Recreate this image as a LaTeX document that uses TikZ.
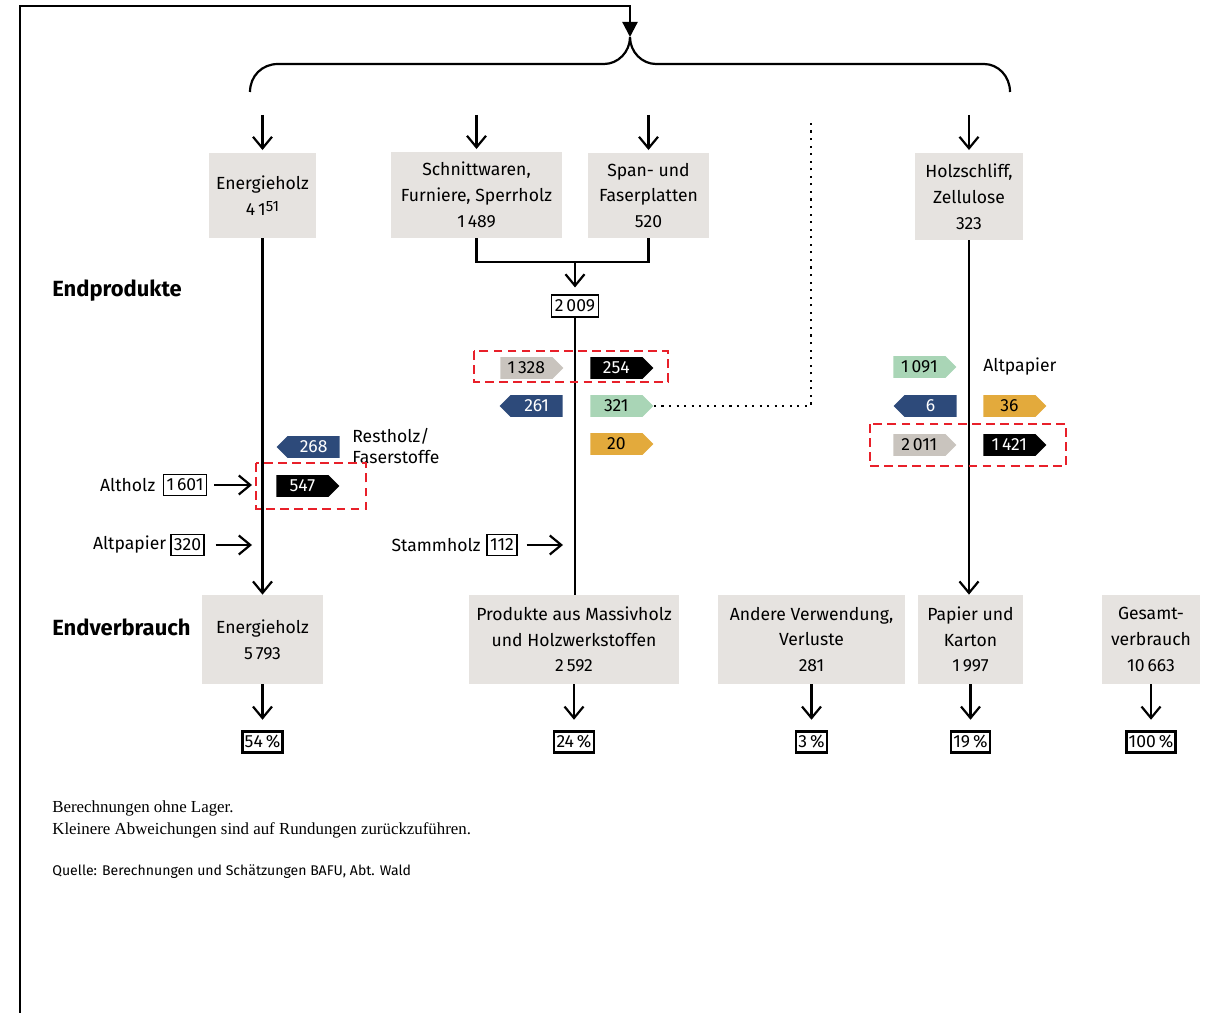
\documentclass[tikz,border=0pt]{standalone}
\usepackage{fontspec}
\setmainfont{Fira Sans}
\newfontfamily\notefont{Liberation Serif}
\usepackage{tikz}
\usetikzlibrary{arrows.meta}
\usetikzlibrary{shapes.symbols}
\usetikzlibrary{positioning}

\definecolor{boxgray}{HTML}{E6E3E0}
\definecolor{taggray}{HTML}{C9C4BE}
\definecolor{tagblue}{HTML}{2D4A7A}
\definecolor{taggreen}{HTML}{A9D5B6}
\definecolor{tagorange}{HTML}{E3AA3C}
\definecolor{hlred}{HTML}{E8202A}

\tikzset{
  flow/.style={line width=1.25pt},
  arr/.style={flow, -{Straight Barb[length=2.3mm, width=3.8mm]}},
  prodbox/.style={fill=boxgray, align=center, inner sep=0pt, font=\fontsize{10}{14.7}\selectfont},
  valbox/.style={draw, line width=0.9pt, inner xsep=1.8pt, inner ysep=2.6pt, font=\fontsize{10}{12}\selectfont},
  pctbox/.style={draw, line width=1.5pt, inner xsep=1.4pt, inner ysep=2.2pt, font=\fontsize{10}{12}\selectfont},
  flowtag/.style={signal, signal from=nowhere, minimum height=0.44cm, minimum width=1.26cm, inner sep=1pt, font=\fontsize{10}{12}\selectfont},
  tagR/.style={flowtag, signal to=east, anchor=west},
  tagL/.style={flowtag, signal to=west, anchor=east},
  hilite/.style={draw=hlred, line width=1.4pt, dash pattern=on 5pt off 3pt},
  dotline/.style={line width=1.2pt, dash pattern=on 1.2pt off 3.1pt},
  heading/.style={anchor=west, inner sep=0pt, font=\fontsize{12.5}{14}\selectfont\bfseries},
}

\begin{document}
\begin{tikzpicture}[x=0.02cm, y=-0.02cm]
\useasboundingbox (0,0) rectangle (1217,1013);

% frame and brace
\coordinate (frameFoot) at (20,1013);
\coordinate (braceTip) at (630,37);
\draw[line width=1.3pt, -{Triangle[length=3mm, width=3mm]}] (frameFoot) -- (20,6) -| (braceTip);
\draw[flow] (250,92) .. controls (250,76) and (262,64) .. (278,64) -- (604,64)
  .. controls (618,64) and (630,52) .. (braceTip)
  .. controls (630,52) and (642,64) .. (656,64) -- (984,64)
  .. controls (998,64) and (1010,76) .. (1010,92);

% Endprodukte
\node[heading] (hProd) at (52,291) {Endprodukte};
\node[prodbox, minimum width=2.14cm, minimum height=1.7cm] (eTop) at (262.5,195.5) {Energieholz\\4\,1\raisebox{0.45ex}{\fontsize{8.5}{9}\selectfont 51}};
\node[prodbox, minimum width=3.42cm, minimum height=1.72cm] (sTop) at (476.5,195) {Schnittwaren,\\Furniere, Sperrholz\\1\,489};
\node[prodbox, minimum width=2.42cm, minimum height=1.7cm] (pTop) at (648.5,195.5) {Span- und\\Faserplatten\\520};
\node[prodbox, minimum width=2.16cm, minimum height=1.74cm] (hTop) at (969,196.5) {Holzschliff,\\Zellulose\\323};

\coordinate (eIn) at (262.5,115);
\coordinate (sIn) at (476.5,115);
\coordinate (pIn) at (648.5,115);
\coordinate (hIn) at (969,115);
\draw[arr, shorten >=1.5pt] (eIn) -- (eTop.north);
\draw[arr, shorten >=1.5pt] (sIn) -- (sTop.north);
\draw[arr, shorten >=1.5pt] (pIn) -- (pTop.north);
\draw[arr, shorten >=1.5pt] (hIn) -- (hTop.north);

\coordinate (sJoin) at (575,262);
\draw[flow] (sTop.south) |- (pTop.south |- sJoin) -- (pTop.south);
\node[valbox] (sum) at (575,306) {2\,009};
\draw[arr, shorten >=4pt] (sJoin) -- (sum.north);

% Endverbrauch
\node[heading] (hEnd) at (52,627) {Endverbrauch};
\node[prodbox, minimum width=2.42cm, minimum height=1.78cm] (eEnd) at (262.5,639.5) {Energieholz\\5\,793};
\node[prodbox, minimum width=4.2cm, minimum height=1.78cm] (mEnd) at (574,639.5) {Produkte aus Massivholz\\und Holzwerkstoffen\\2\,592};
\node[prodbox, minimum width=3.74cm, minimum height=1.78cm] (oEnd) at (811.5,639.5) {Andere Verwendung,\\Verluste\\281};
\node[prodbox, minimum width=2.1cm, minimum height=1.78cm] (kEnd) at (970.5,639.5) {Papier und\\Karton\\1\,997};
\node[prodbox, minimum width=1.96cm, minimum height=1.78cm] (gEnd) at (1151,639.5) {Gesamt-\\verbrauch\\10\,663};

\draw[arr] (eTop.south) -- (eEnd.north);
\draw[flow] (sum.south) -- (sum.south |- mEnd.north);
\draw[arr] (hTop.south) -- (hTop.south |- kEnd.north);

\node[pctbox] (ePct) at (262.5,742) {54\,\%};
\node[pctbox] (mPct) at (574,742) {24\,\%};
\node[pctbox] (oPct) at (811.5,742) {3\,\%};
\node[pctbox] (kPct) at (970.5,742) {19\,\%};
\node[pctbox] (gPct) at (1151,742) {100\,\%};
\draw[arr, shorten >=6pt] (eEnd.south) -- (ePct.north);
\draw[arr, shorten >=6pt] (mEnd.south) -- (mPct.north);
\draw[arr, shorten >=6pt] (oEnd.south) -- (oPct.north);
\draw[arr, shorten >=6pt] (kEnd.south) -- (kPct.north);
\draw[arr, shorten >=6pt] (gEnd.south) -- (gPct.north);

% flows, Energieholz
\node[tagL, fill=tagblue, text=white] (t268) at (340,447) {268};
\node[anchor=west, align=left, inner sep=0pt, font=\fontsize{10}{12.5}\selectfont] (lRest) at (352,446) {Restholz/\\Faserstoffe};
\node[tagR, fill=black, text=white] (t547) at (276,486) {547};
\draw[hilite] (256,463) rectangle (366,509);

\node[valbox] (vAltholz) at (185,485) {1\,601};
\node[left=4pt of vAltholz, inner sep=0pt, font=\fontsize{10}{12}\selectfont] (lAltholz) {Altholz};
\coordinate (altholzIn) at (252,485);
\draw[arr, shorten <=4pt] (vAltholz) -- (altholzIn);

\node[valbox] (vAltpapier) at (187.5,545) {320};
\node[left=2pt of vAltpapier, inner sep=0pt, font=\fontsize{10}{12}\selectfont] (lAltpapier) {Altpapier};
\coordinate (altpapierIn) at (252,545);
\draw[arr, shorten <=6pt] (vAltpapier) -- (altpapierIn);

% flows, Holzprodukte
\node[tagR, fill=taggray] (t1328) at (500,368) {1\,328};
\node[tagR, fill=black, text=white] (t254) at (590,368) {254};
\draw[hilite] (474,351) rectangle (668,382);
\node[tagL, fill=tagblue, text=white] (t261) at (563,406) {261};
\node[tagR, fill=taggreen] (t321) at (590,406) {321};
\node[tagR, fill=tagorange] (t20) at (590,444) {20};
\coordinate (dotTop) at (811,118);
\draw[dotline] (t321.east) -| (dotTop);

\node[valbox] (vStamm) at (502,545) {112};
\node[left=3pt of vStamm, inner sep=0pt, font=\fontsize{10}{12}\selectfont] (lStamm) {Stammholz};
\coordinate (stammIn) at (563,545);
\draw[arr, shorten <=5pt] (vStamm) -- (stammIn);

% flows, Papier
\node[tagR, fill=taggreen] (t1091) at (893,367) {1\,091};
\node[anchor=west, inner sep=0pt, font=\fontsize{10}{12}\selectfont] (lAltp2) at (983,367) {Altpapier};
\node[tagL, fill=tagblue, text=white] (t6) at (957,406) {6};
\node[tagR, fill=tagorange] (t36) at (983,406) {36};
\node[tagR, fill=taggray] (t2011) at (893,445) {2\,011};
\node[tagR, fill=black, text=white] (t1421) at (983,445) {1\,421};
\draw[hilite] (870,424) rectangle (1066,466);

% notes
\node[anchor=west, inner sep=0pt, font=\notefont\fontsize{9.6}{11}\selectfont] (note1) at (52,808) {Berechnungen ohne Lager.};
\node[anchor=west, inner sep=0pt, font=\notefont\fontsize{9.6}{11}\selectfont] (note2) at (52,830) {Kleinere Abweichungen sind auf Rundungen zurückzuführen.};
\node[anchor=west, inner sep=0pt, font=\fontsize{8}{9}\selectfont] (source) at (52,872) {Quelle: Berechnungen und Schätzungen BAFU, Abt. Wald};
\end{tikzpicture}
\end{document}
